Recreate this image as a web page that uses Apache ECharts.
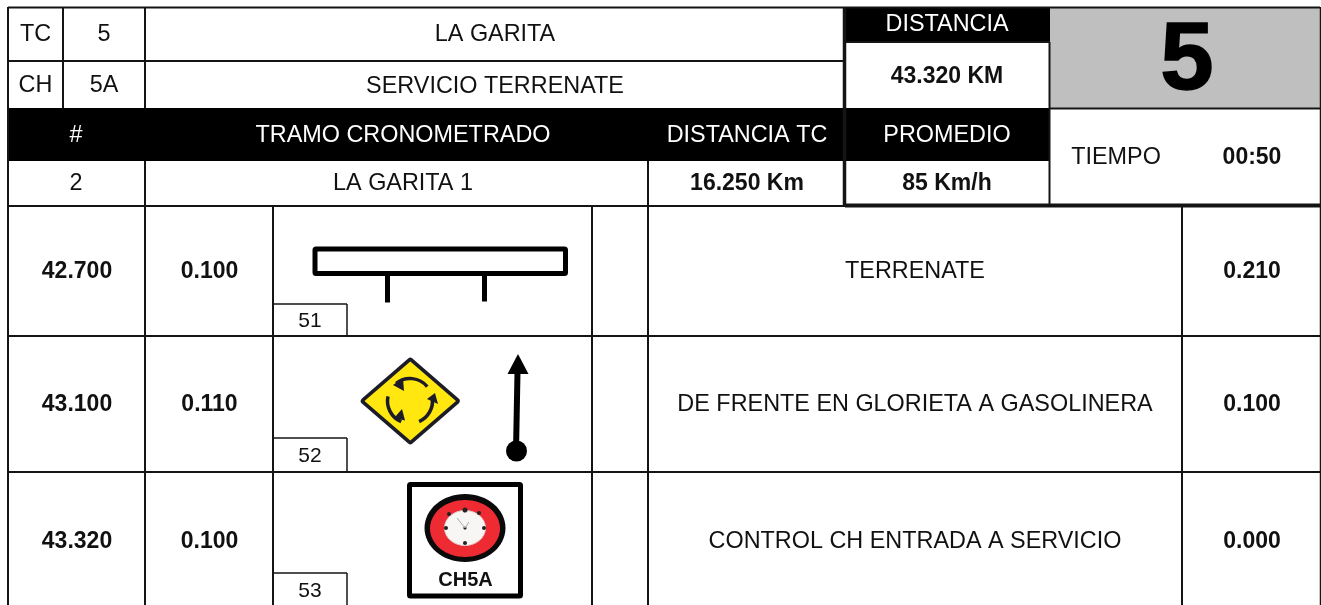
<!DOCTYPE html>
<html>
<head>
<meta charset="utf-8">
<style>html,body{margin:0;padding:0;background:#fff}#c{width:1321px;height:605px}</style>
<script src="https://cdn.jsdelivr.net/npm/echarts@6/dist/echarts.min.js"></script>
</head>
<body>
<div id="c"></div>
<script>
// ---- values
var controlLabels = ['TC', 'CH'];
var controlNumbers = ['5', '5A'];
var controlNames = ['LA GARITA', 'SERVICIO TERRENATE'];
var stageHeaders = ['#', 'TRAMO CRONOMETRADO', 'DISTANCIA TC', 'PROMEDIO'];
var stageValues = ['2', 'LA GARITA 1', '16.250 Km', '85 Km/h'];
var totalTitle = 'DISTANCIA';
var totalValue = '43.320 KM';
var bigNumber = '5';
var timeLabel = 'TIEMPO';
var timeValue = '00:50';
var kmTotals = ['42.700', '43.100', '43.320'];
var kmPartials = ['0.100', '0.110', '0.100'];
var noteNumbers = ['51', '52', '53'];
var descriptions = ['TERRENATE', 'DE FRENTE EN GLORIETA A GASOLINERA', 'CONTROL CH ENTRADA A SERVICIO'];
var kmNext = ['0.210', '0.100', '0.000'];

// ---- layout (page units on hidden value axes)
var FF = '"Liberation Sans", Arial, sans-serif';
var R = '23.4px ' + FF, B = 'bold 23px ' + FF;
var rowTextY = [272, 404.5, 541.5], noteY = [321, 456, 591];
var INK = '#141414';

var rects = [
  [8, 108, 845, 161, '#000'],
  [845, 8, 1050, 42, '#000'],
  [845, 108, 1050, 161, '#000'],
  [1050, 8, 1320, 108, '#bfbfbf']
];
var lines = [
  [8, 7.5, 1320, 7.5, 2], [8, 7, 8, 605, 2], [1320.5, 7, 1320.5, 605, 1.5],
  [63, 8, 63, 108, 2], [145, 8, 145, 108, 2], [145, 161, 145, 605, 2],
  [8, 61, 844, 61, 2], [845, 42, 1050, 42, 2], [8, 206, 844, 206, 2],
  [648, 161, 648, 605, 2], [844.5, 7, 844.5, 207, 3.5], [1049.5, 42, 1049.5, 205, 2],
  [845, 205.5, 1320, 205.5, 4], [1050, 108.5, 1320, 108.5, 2],
  [8, 336, 1320, 336, 2], [8, 472, 1320, 472, 2],
  [273, 206, 273, 605, 2], [592, 206, 592, 605, 2], [1182, 206, 1182, 605, 2],
  [273, 304, 347, 304, 1.5], [347, 304, 347, 336, 1.5],
  [273, 438, 347, 438, 1.5], [347, 438, 347, 472, 1.5],
  [273, 573, 347, 573, 1.5], [347, 573, 347, 605, 1.5]
];
var texts = [];
function addText(t, x, y, font, fill, outline) { texts.push({ t: t, x: x, y: y, font: font || R, fill: fill || '#111', outline: outline || 0 }); }
controlLabels.forEach(function (s, i) { addText(s, 35.5, [35, 86][i]); });
controlNumbers.forEach(function (s, i) { addText(s, 104, [35, 86][i]); });
controlNames.forEach(function (s, i) { addText(s, 495, [35, 86.5][i]); });
var stageX = [76, 403, 747, 947];
stageHeaders.forEach(function (s, i) { addText(s, stageX[i], 135.5, R, '#fff'); });
stageValues.forEach(function (s, i) { addText(s, stageX[i], 183.5, i > 1 ? B : R); });
addText(totalTitle, 947, 25, R, '#fff');
addText(totalValue, 947, 77, B);
addText(bigNumber, 1187, 63, 'bold 96px ' + FF, '#000', 1.5);
addText(timeLabel, 1116, 158);
addText(timeValue, 1252, 158, B);
kmTotals.forEach(function (s, i) { addText(s, 77, rowTextY[i], B); });
kmPartials.forEach(function (s, i) { addText(s, 209.5, rowTextY[i], B); });
noteNumbers.forEach(function (s, i) { addText(s, 310, noteY[i], '21px ' + FF); });
descriptions.forEach(function (s, i) { addText(s, 915, rowTextY[i]); });
kmNext.forEach(function (s, i) { addText(s, 1252, rowTextY[i], B); });

// ---- note glyphs in axis units
function deg(a) { return a * Math.PI / 180; }
function glyphs(c) {
  var line = function (x1, y1, x2, y2, w) {
    var a = c(x1, y1), b = c(x2, y2);
    return { type: 'line', shape: { x1: a[0], y1: a[1], x2: b[0], y2: b[1] }, style: { stroke: '#000', lineWidth: w, lineCap: 'butt' } };
  };
  var poly = function (pts, fill, stroke, w) {
    return { type: 'polygon', shape: { points: pts.map(function (p) { return c(p[0], p[1]); }) },
      style: { fill: fill, stroke: stroke || null, lineWidth: w || 0, lineJoin: 'round' } };
  };
  var arc = function (cx, cy, r, a0, a1) {
    var o = c(cx, cy);
    return { type: 'arc', shape: { cx: o[0], cy: o[1], r: r, startAngle: deg(a0), endAngle: deg(a1), clockwise: true },
      style: { fill: null, stroke: '#1c1c28', lineWidth: 3.5 } };
  };
  var ell = function (cx, cy, rx, ry, fill, stroke, w) {
    var o = c(cx, cy);
    return { type: 'ellipse', shape: { cx: o[0], cy: o[1], rx: rx, ry: ry }, style: { fill: fill, stroke: stroke || null, lineWidth: w || 0 } };
  };
  var out = [];
  // T-junction board
  var a = c(315, 249), b = c(565.5, 273.5);
  out.push({ type: 'rect', shape: { x: a[0], y: a[1], width: b[0] - a[0], height: b[1] - a[1], r: 1 }, style: { fill: '#fff', stroke: '#000', lineWidth: 5, lineJoin: 'round' } });
  out.push(line(387.5, 275, 387.5, 302.5, 5));
  out.push(line(484.5, 275, 484.5, 301.5, 5));
  // roundabout diamond
  out.push(poly([[410.3, 361], [456.5, 401], [410.3, 441], [364, 401]], '#1c1c28', '#1c1c28', 6.5));
  out.push(poly([[410.3, 361.5], [456, 401], [410.3, 440.5], [364.5, 401]], '#ffe70f'));
  out.push(arc(410, 401, 22.5, -128, -40));
  out.push(arc(410, 401, 22.5, -8, 66));
  out.push(arc(410, 401, 22.5, 113, 192));
  out.push(poly([[393, 385], [403, 378], [404, 391]], '#1c1c28'));
  out.push(poly([[435, 393], [427, 399], [438, 404]], '#1c1c28'));
  out.push(poly([[405, 420.5], [394, 418], [402, 409]], '#1c1c28'));
  // straight-on arrow
  out.push(line(516, 451, 517.5, 372, 6));
  out.push(poly([[518, 354], [507.5, 374], [528.5, 374]], '#000'));
  var d = c(516.5, 451);
  out.push({ type: 'circle', shape: { cx: d[0], cy: d[1], r: 10.5 }, style: { fill: '#000' } });
  // control board with clock
  var e = c(409.5, 484.5), f = c(520.5, 596);
  out.push({ type: 'rect', shape: { x: e[0], y: e[1], width: f[0] - e[0], height: f[1] - e[1], r: 1 }, style: { fill: '#fff', stroke: '#000', lineWidth: 5, lineJoin: 'round' } });
  out.push(ell(465, 528, 40.5, 34, '#0a0a0a'));
  out.push(ell(465, 528.5, 35, 28.5, '#ee2b33'));
  out.push(ell(465, 528, 20.5, 17.5, '#f8f5f5', '#e0c8c8', 1));
  [[465, 510, 2.6], [465, 543, 2], [446, 528, 2], [484, 528, 2], [449, 514, 2], [479, 513, 2], [465, 528, 1.6]].forEach(function (p) {
    out.push(ell(p[0], p[1], p[2], p[2], '#222'));
  });
  var hand1 = line(465, 528, 457, 518, 1), hand2 = line(465, 528, 469, 522, 1);
  hand1.style.stroke = '#aaa'; hand2.style.stroke = '#aaa';
  out.push(hand1, hand2);
  return out;
}

function pick(series, render) {
  return { type: 'custom', coordinateSystem: 'cartesian2d', clip: false, silent: true, z: series,
    data: [[0, 0]], renderItem: function (p, api) {
      var c = function (x, y) { return api.coord([x, y]); };
      return { type: 'group', children: render(c) };
    } };
}

var chart = echarts.init(document.getElementById('c'));
chart.setOption({
  animation: false,
  backgroundColor: '#fff',
  grid: { left: 0, right: 0, top: 0, bottom: 0 },
  xAxis: { type: 'value', min: 0, max: 1321, show: false },
  yAxis: { type: 'value', min: 0, max: 605, inverse: true, show: false },
  series: [
    pick(1, function (c) {
      return rects.map(function (r) {
        var a = c(r[0], r[1]), b = c(r[2], r[3]);
        return { type: 'rect', shape: { x: a[0], y: a[1], width: b[0] - a[0], height: b[1] - a[1] }, style: { fill: r[4] } };
      });
    }),
    pick(2, function (c) {
      return lines.map(function (l) {
        var a = c(l[0], l[1]), b = c(l[2], l[3]);
        return { type: 'line', shape: { x1: a[0], y1: a[1], x2: b[0], y2: b[1] }, style: { stroke: INK, lineWidth: l[4] } };
      });
    }),
    pick(3, glyphs),
    pick(4, function (c) {
      var o = texts.map(function (t) {
        var a = c(t.x, t.y);
        var st = { text: t.t, x: a[0], y: a[1], font: t.font, fill: t.fill, textAlign: 'center', textVerticalAlign: 'middle' };
        if (t.outline) { st.stroke = t.fill; st.lineWidth = t.outline; }
        return { type: 'text', style: st };
      });
      var k = c(465.5, 580.5);
      o.push({ type: 'text', style: { text: 'CH5A', x: k[0], y: k[1], font: 'bold 20px ' + FF, fill: '#111', textAlign: 'center', textVerticalAlign: 'middle' } });
      return o;
    })
  ]
});
</script>
</body>
</html>
